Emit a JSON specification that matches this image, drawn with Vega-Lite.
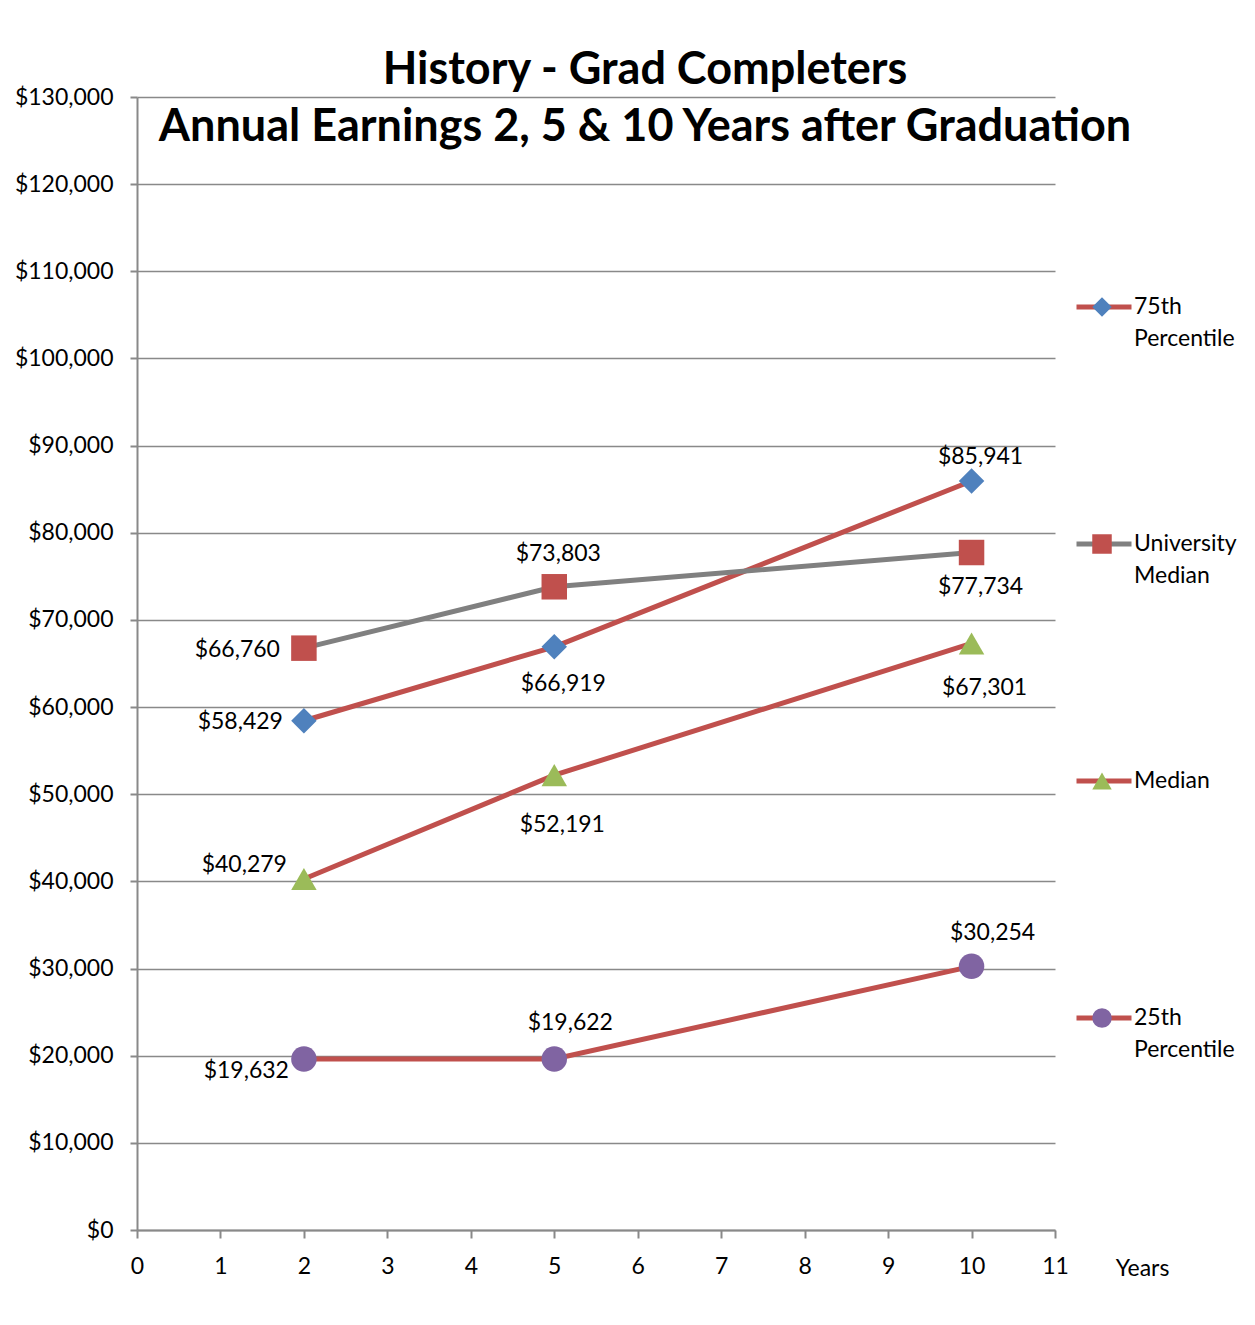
{
  "$schema": "https://vega.github.io/schema/vega-lite/v6.json",
  "width": 918,
  "height": 1133,
  "autosize": "none",
  "padding": {"left": 137, "top": 97, "right": 200, "bottom": 95},
  "background": "white",
  "config": {
    "font": "Lato",
    "view": {"stroke": null},
    "axis": {
      "labelFont": "Lato", "labelFontSize": 23, "labelColor": "#000000",
      "domainColor": "#898989", "domainWidth": 2,
      "tickColor": "#898989", "tickWidth": 2,
      "gridColor": "#898989", "gridWidth": 1.5
    },
    "legend": {"padding": 0},
    "style": {"guide-label": {"lineHeight": 32}}
  },
  "title": {
    "text": ["History - Grad Completers", "Annual Earnings 2, 5 & 10 Years after Graduation"],
    "font": "Lato", "fontSize": 45, "fontWeight": "bold", "color": "#000000",
    "anchor": "middle", "frame": "group", "dx": 49, "baseline": "top", "offset": -64, "lineHeight": 57
  },
  "data": {"values": [
    {"series": "75th Percentile", "year": 2, "earnings": 58429},
    {"series": "75th Percentile", "year": 5, "earnings": 66919},
    {"series": "75th Percentile", "year": 10, "earnings": 85941},
    {"series": "Median", "year": 2, "earnings": 40279},
    {"series": "Median", "year": 5, "earnings": 52191},
    {"series": "Median", "year": 10, "earnings": 67301},
    {"series": "25th Percentile", "year": 2, "earnings": 19632},
    {"series": "25th Percentile", "year": 5, "earnings": 19622},
    {"series": "25th Percentile", "year": 10, "earnings": 30254},
    {"series": "University Median", "year": 2, "earnings": 66760},
    {"series": "University Median", "year": 5, "earnings": 73803},
    {"series": "University Median", "year": 10, "earnings": 77734}
  ]},
  "encoding": {
    "x": {"field": "year", "type": "quantitative",
      "scale": {"domain": [0, 11], "nice": false, "zero": false},
      "axis": {"values": [0,1,2,3,4,5,6,7,8,9,10,11], "grid": false, "tickSize": 8, "labelPadding": 17, "labelFlush": false,
        "title": "Years", "titleFont": "Lato", "titleFontSize": 23, "titleFontWeight": "normal", "titleColor": "#000000",
        "titleX": 1005, "titleY": 38, "titleAlign": "center", "titleBaseline": "middle", "titleAngle": 0}},
    "y": {"field": "earnings", "type": "quantitative",
      "scale": {"domain": [0, 130000], "nice": false},
      "axis": {"values": [0,10000,20000,30000,40000,50000,60000,70000,80000,90000,100000,110000,120000,130000],
        "format": "$,d", "tickSize": 7, "labelPadding": 17, "title": null}}
  },
  "layer": [
    {
      "mark": {"type": "line", "strokeWidth": 5},
      "encoding": {
        "stroke": {"field": "series", "type": "nominal",
          "sort": ["75th Percentile", "University Median", "Median", "25th Percentile"],
          "scale": {"range": ["#C0504D", "#808080", "#C0504D", "#C0504D"]},
          "legend": {"orient": "none", "legendX": 937, "legendY": 160, "title": null,
            "symbolType": "stroke", "symbolSize": 3025, "symbolStrokeWidth": 5,
            "clipHeight": 100, "rowPadding": 137, "labelOffset": 0,
            "labelFont": "Lato", "labelFontSize": 23, "labelColor": "#000000", "labelLimit": 300,
            "labelExpr": "split(datum.label, ' ')"}}
      }
    },
    {
      "mark": {"type": "point", "filled": true, "opacity": 1, "size": 650, "strokeWidth": 0},
      "encoding": {
        "shape": {"field": "series", "type": "nominal",
          "scale": {"domain": ["75th Percentile", "University Median", "Median", "25th Percentile"],
            "range": ["diamond", "square", "triangle-up", "circle"]},
          "legend": {"orient": "none", "legendX": 955, "legendY": 160, "title": null,
            "symbolSize": 380, "symbolStrokeWidth": 0, "clipHeight": 100, "rowPadding": 137,
            "labelExpr": "''"}},
        "fill": {"field": "series", "type": "nominal",
          "scale": {"domain": ["75th Percentile", "University Median", "Median", "25th Percentile"],
            "range": ["#4F81BD", "#C0504D", "#9BBB59", "#8064A2"]},
          "legend": {"orient": "none", "legendX": 955, "legendY": 160, "title": null,
            "symbolSize": 380, "symbolStrokeWidth": 0, "clipHeight": 100, "rowPadding": 137,
            "labelExpr": "''"}}
      }
    },
    {"transform": [{"filter": "datum.series == '75th Percentile' && datum.year == 2"}],
     "mark": {"type": "text", "align": "right", "baseline": "middle", "dx": -21, "dy": 1, "fontSize": 23, "font": "Lato", "color": "#000000"},
     "encoding": {"text": {"field": "earnings", "format": "$,d"}}},
    {"transform": [{"filter": "datum.series == 'University Median' && datum.year == 2"}],
     "mark": {"type": "text", "align": "right", "baseline": "middle", "dx": -24, "dy": 2, "fontSize": 23, "font": "Lato", "color": "#000000"},
     "encoding": {"text": {"field": "earnings", "format": "$,d"}}},
    {"transform": [{"filter": "datum.series == 'Median' && datum.year == 2"}],
     "mark": {"type": "text", "align": "right", "baseline": "middle", "dx": -17, "dy": -14, "fontSize": 23, "font": "Lato", "color": "#000000"},
     "encoding": {"text": {"field": "earnings", "format": "$,d"}}},
    {"transform": [{"filter": "datum.series == '25th Percentile' && datum.year == 2"}],
     "mark": {"type": "text", "align": "right", "baseline": "middle", "dx": -15, "dy": 12, "fontSize": 23, "font": "Lato", "color": "#000000"},
     "encoding": {"text": {"field": "earnings", "format": "$,d"}}},
    {"transform": [{"filter": "datum.series == '75th Percentile' && datum.year == 5"}],
     "mark": {"type": "text", "align": "center", "baseline": "middle", "dx": 9, "dy": 37, "fontSize": 23, "font": "Lato", "color": "#000000"},
     "encoding": {"text": {"field": "earnings", "format": "$,d"}}},
    {"transform": [{"filter": "datum.series == 'University Median' && datum.year == 5"}],
     "mark": {"type": "text", "align": "center", "baseline": "middle", "dx": 4, "dy": -33, "fontSize": 23, "font": "Lato", "color": "#000000"},
     "encoding": {"text": {"field": "earnings", "format": "$,d"}}},
    {"transform": [{"filter": "datum.series == 'Median' && datum.year == 5"}],
     "mark": {"type": "text", "align": "center", "baseline": "middle", "dx": 8, "dy": 50, "fontSize": 23, "font": "Lato", "color": "#000000"},
     "encoding": {"text": {"field": "earnings", "format": "$,d"}}},
    {"transform": [{"filter": "datum.series == '25th Percentile' && datum.year == 5"}],
     "mark": {"type": "text", "align": "center", "baseline": "middle", "dx": 16, "dy": -36, "fontSize": 23, "font": "Lato", "color": "#000000"},
     "encoding": {"text": {"field": "earnings", "format": "$,d"}}},
    {"transform": [{"filter": "datum.series == '75th Percentile' && datum.year == 10"}],
     "mark": {"type": "text", "align": "center", "baseline": "middle", "dx": 9, "dy": -24, "fontSize": 23, "font": "Lato", "color": "#000000"},
     "encoding": {"text": {"field": "earnings", "format": "$,d"}}},
    {"transform": [{"filter": "datum.series == 'University Median' && datum.year == 10"}],
     "mark": {"type": "text", "align": "center", "baseline": "middle", "dx": 9, "dy": 34, "fontSize": 23, "font": "Lato", "color": "#000000"},
     "encoding": {"text": {"field": "earnings", "format": "$,d"}}},
    {"transform": [{"filter": "datum.series == 'Median' && datum.year == 10"}],
     "mark": {"type": "text", "align": "center", "baseline": "middle", "dx": 13, "dy": 45, "fontSize": 23, "font": "Lato", "color": "#000000"},
     "encoding": {"text": {"field": "earnings", "format": "$,d"}}},
    {"transform": [{"filter": "datum.series == '25th Percentile' && datum.year == 10"}],
     "mark": {"type": "text", "align": "center", "baseline": "middle", "dx": 21, "dy": -33, "fontSize": 23, "font": "Lato", "color": "#000000"},
     "encoding": {"text": {"field": "earnings", "format": "$,d"}}}
  ]
}
